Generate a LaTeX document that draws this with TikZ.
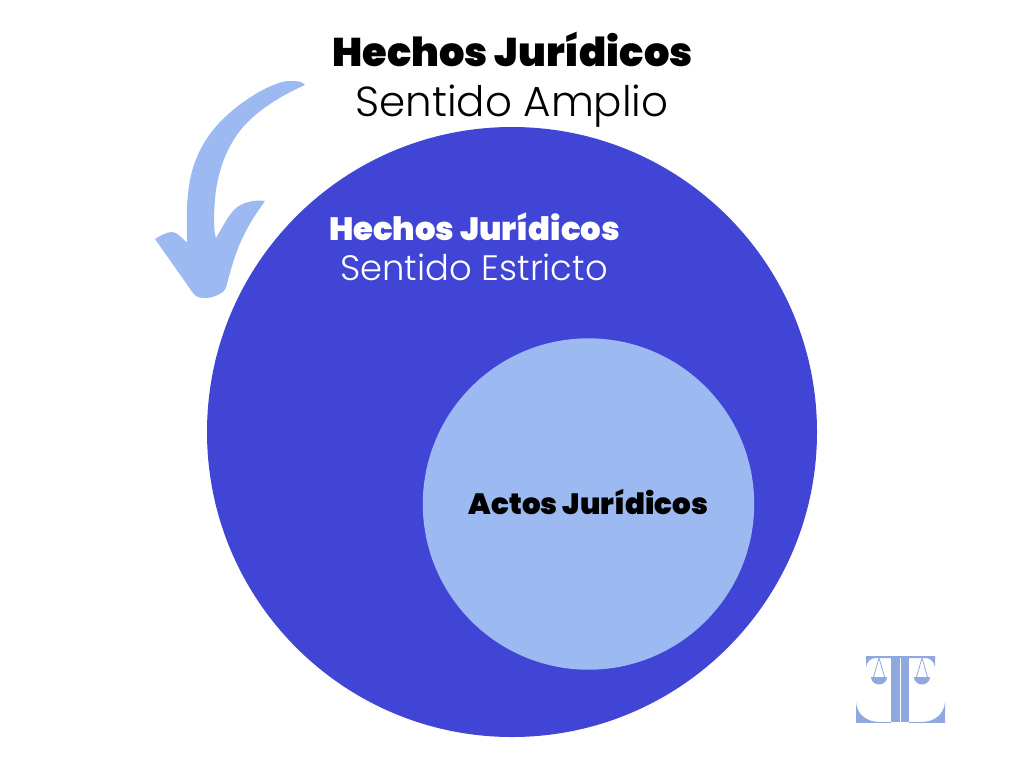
\documentclass[tikz,border=0pt]{standalone}
\usepackage{fontspec}
\setmainfont{Poppins Light}
\newfontfamily\blackfont{Poppins Black}
\newfontfamily\lightfont{Poppins Light}
\definecolor{deep}{HTML}{4045D6}
\definecolor{pale}{HTML}{9DB9F2}
\definecolor{logoc}{HTML}{8FA9E0}
\tikzset{
  heavy/.style={font=\blackfont\fontsize{#1}{#1}\selectfont,inner sep=0pt,anchor=base},
  thin text/.style={font=\lightfont\fontsize{#1}{#1}\selectfont,inner sep=0pt,anchor=base},
}
\begin{document}
\begin{tikzpicture}[x=0.75pt,y=-0.75pt]
\useasboundingbox (0,0) rectangle (1024,768);
\fill[white] (0,0) rectangle (1024,768);
\fill[deep] (512,432) circle[radius=305];
\fill[pale] (588.5,504) circle[radius=165.7];
% arrow
\fill[pale] (305,85) .. controls (303,81) and (296,81) .. (287,81)
 .. controls (268,84) and (240,102) .. (222,120)
 .. controls (200,142) and (190,168) .. (188,195)
 .. controls (186,210) and (187,228) .. (187,243)
 .. controls (182,238) and (177,232) .. (172,232)
 .. controls (166,232) and (160,236) .. (155,239)
 -- (193,293) .. controls (197,298) and (200,298) .. (207,298)
 .. controls (215,297) and (224,293) .. (226,288)
 .. controls (230,272) and (236,250) .. (244,235)
 .. controls (250,222) and (258,211) .. (265,201)
 .. controls (255,199) and (240,203) .. (234,210)
 .. controls (228,216) and (222,228) .. (216,238)
 .. controls (213,230) and (214,205) .. (216,190)
 .. controls (220,165) and (228,145) .. (243,127)
 .. controls (258,110) and (282,95) .. (305,85) -- cycle;
% titles
\node[heavy=30] (t1) at (512.5,66) {Hechos Jurídicos};
\node[thin text=31.5] (t2) at (512,116) {Sentido Amplio};
\node[heavy=24.2] (t3) at (474.5,240.5) {\textcolor{white}{Hechos Jurídicos}};
\node[thin text=26.5] (t4) at (474,280.5) {\textcolor{white}{Sentido Estricto}};
\node[heavy=22] (t5) at (588.5,514.5) {Actos Jurídicos};
% logo
\fill[logoc] (891,656) rectangle (900,722);
\fill[logoc] (901,656) rectangle (909,722);
\fill[logoc] (866,656) -- (935,656) -- (935,667) .. controls (934,661) and (930,658) .. (925,658) -- (876,658) .. controls (871,658) and (867,661) .. (866,667) -- cycle;
\fill[logoc] (856,702) .. controls (857,714) and (866,722) .. (880,722) -- (856,723) -- cycle;
\fill[logoc] (856,722) -- (891,722) -- (891,723) -- (856,723) -- cycle;
\fill[logoc] (945,702) .. controls (944,714) and (935,722) .. (921,722) -- (945,723) -- cycle;
\fill[logoc] (909,722) -- (945,722) -- (945,723) -- (909,723) -- cycle;
\foreach \c in {879,922}{
  \draw[logoc,line width=0.6pt] (\c-5.5,677) -- (\c,658) -- (\c+5.5,677);
  \fill[logoc] (\c-8,677) -- (\c+8,677) arc[start angle=0,end angle=-180,x radius=8,y radius=-7.5] -- cycle;
}
\end{tikzpicture}
\end{document}
